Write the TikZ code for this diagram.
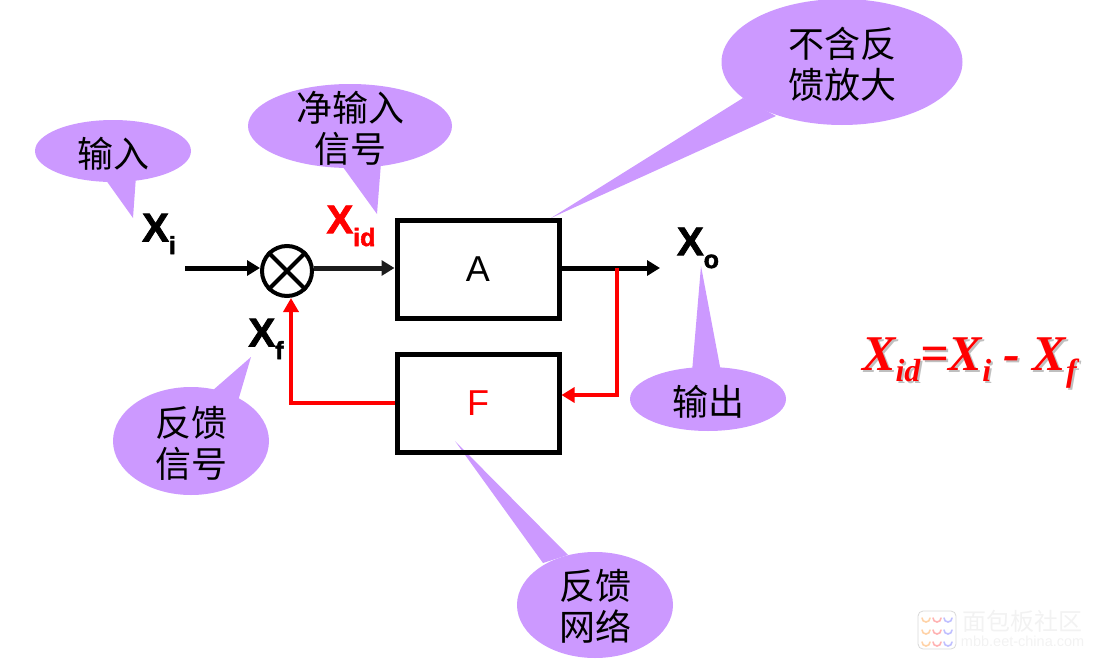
\documentclass[tikz,border=0pt]{standalone}
\usepackage{fontspec}
\setmainfont{Liberation Sans}
\newfontfamily\cjk{Noto Sans CJK SC}
\newfontfamily\eqfont{Liberation Serif}
\newfontfamily\sigfont[FakeBold=2]{Liberation Sans Bold}
\usetikzlibrary{
    positioning,
    shapes.geometric,
    arrows.meta,
    backgrounds
}
\definecolor{bubble}{RGB}{204, 153, 255}
\definecolor{fbred}{RGB}{255, 0, 0}
\definecolor{fwdgray}{RGB}{28, 28, 28}

\begin{document}
\begin{tikzpicture}[
    x=1pt, y=-1pt,
    callout/.style={ellipse, fill=bubble, inner sep=0pt},
    notetext/.style={align=center, inner sep=0pt, font=\cjk\fontsize{36}{41}\selectfont},
    tail/.style={fill=bubble},
    block/.style={rectangle, draw=black, line width=5pt, minimum width=162pt, minimum height=98pt,
                  inner sep=0pt, font=\fontsize{36}{40}\selectfont},
    signal/.style={font=\sigfont\fontsize{40}{44}\selectfont, inner sep=0pt},
    arrow/.style={-{Triangle[length=13pt, width=15pt]}, line width=5pt, #1},
    wire/.style={line width=4.5pt, fbred}
]
\useasboundingbox (0, 0) rectangle (1095, 661);

% Forward path blocks
\node[block] (amp) at (478, 269) {A};
\node[block, text=fbred] (fbnet) at (478, 403) {F};
\node[circle, draw=black, line width=4pt, minimum size=50pt, inner sep=0pt] (sum) at (287, 271) {};
\draw[line width=4pt] (sum.45) -- (sum.225) (sum.135) -- (sum.-45);

% Signal names
\node[signal] (xi) at (159, 234) {X\raisebox{-0.32em}{\fontsize{25}{25}\selectfont i}};
\node[signal, text=fbred] (xid) at (351, 226) {X\raisebox{-0.32em}{\fontsize{25}{25}\selectfont id}};
\node[signal] (xf) at (266, 339) {X\raisebox{-0.32em}{\fontsize{25}{25}\selectfont f}};
\node[signal] (xo) at (698, 248) {X\raisebox{-0.32em}{\fontsize{25}{25}\selectfont o}};

% Free wire ends
\coordinate (in) at (185, 268);
\coordinate (out) at (660, 268);
\coordinate (tap) at (617, 268);
\coordinate (fbin) at (617, 395);
\coordinate (fbturn) at (291, 403);

% Connectors
\draw[arrow=black] (in) -- (sum.west |- in);
\draw[arrow=fwdgray] (sum.east |- in) -- (amp.west |- in);
\draw[arrow=black] (amp.east |- out) -- (out);
\draw[wire, -{Triangle[length=13pt, width=15pt]}, line join=miter]
    (tap) -- (fbin) -- (fbnet.east |- fbin);
\draw[wire, -{Triangle[length=14pt, width=15pt]}, line join=miter]
    (fbnet.west |- fbturn) -- (fbturn) -- (fbturn |- sum.south);

% Callouts
\node[callout, minimum width=156pt, minimum height=62pt] (note_in) at (113, 151) {};
\node[notetext] (text_in) at ([yshift=-2.5pt]note_in) {输入};
\node[callout, minimum width=204pt, minimum height=84pt] (note_net) at (350, 126) {};
\node[notetext] (text_net) at ([yshift=-2.5pt]note_net) {净输入\\信号};
\node[callout, minimum width=241pt, minimum height=126pt] (note_open) at (842, 62) {};
\node[notetext] (text_open) at ([yshift=-2.5pt]note_open) {不含反\\馈放大};
\node[callout, minimum width=156pt, minimum height=64pt] (note_out) at (708, 399) {};
\node[notetext] (text_out) at ([yshift=-2.5pt]note_out) {输出};
\node[callout, minimum width=156pt, minimum height=108pt] (note_fb) at (191, 441) {};
\node[notetext] (text_fb) at ([yshift=-2.5pt]note_fb) {反馈\\信号};
\node[callout, minimum width=156pt, minimum height=106pt] (note_loop) at (595, 605) {};
\node[notetext] (text_loop) at ([yshift=-1pt]note_loop) {反馈\\网络};

% Callout pointers
\begin{scope}[on background layer]
\fill[tail] (133, 218) -- (103, 176) -- (136, 176) -- cycle;
\fill[tail] (377, 214) -- (340, 163) -- (381, 163) -- cycle;
\fill[tail] (551, 218) -- (743, 98) -- (776, 116) -- cycle;
\fill[tail] (701, 266) -- (692, 372) -- (721, 372) -- cycle;
\fill[tail] (251, 357) -- (212, 391) -- (238, 401) -- cycle;
\fill[tail] (455, 441) -- (543, 563) -- (568, 555) -- cycle;
\end{scope}

% Closed loop relation, with a soft drop shadow
\foreach \dx/\dy/\col in {2/2/black!25, 0/0/fbred} {
    \node[font=\eqfont\bfseries\itshape\fontsize{50}{56}\selectfont, text=\col, inner sep=0pt, anchor=base west]
        (eq\dx) at (862+\dx, 370.5+\dy)
        {X\raisebox{-0.22em}{\fontsize{32}{32}\selectfont id}=X\raisebox{-0.22em}{\fontsize{32}{32}\selectfont i} - X\raisebox{-0.22em}{\fontsize{32}{32}\selectfont f}};
}

% Site mark in the corner
\node[rectangle, draw=gray!30, fill=white, rounded corners=5pt, line width=0.8pt, minimum size=38pt] (logo) at (937, 630) {};
\foreach \x/\c in {926/orange!35, 937/red!30, 948/blue!25} {
    \foreach \y in {618, 630, 642} {
        \draw[\c, line width=1.6pt, line cap=round] (\x-4, \y) arc[start angle=180, end angle=360, radius=4pt];
    }
}
\node[font=\cjk\fontsize{24}{28}\selectfont, text=gray!10, inner sep=0pt, right=6pt of logo.north east, anchor=north west, yshift=1pt] (mark) {面包板社区};
\node[font=\fontsize{14.5}{16}\selectfont, text=gray!10, inner sep=0pt, below=4pt of mark] (site) {mbb.eet-china.com};

\end{tikzpicture}
\end{document}
